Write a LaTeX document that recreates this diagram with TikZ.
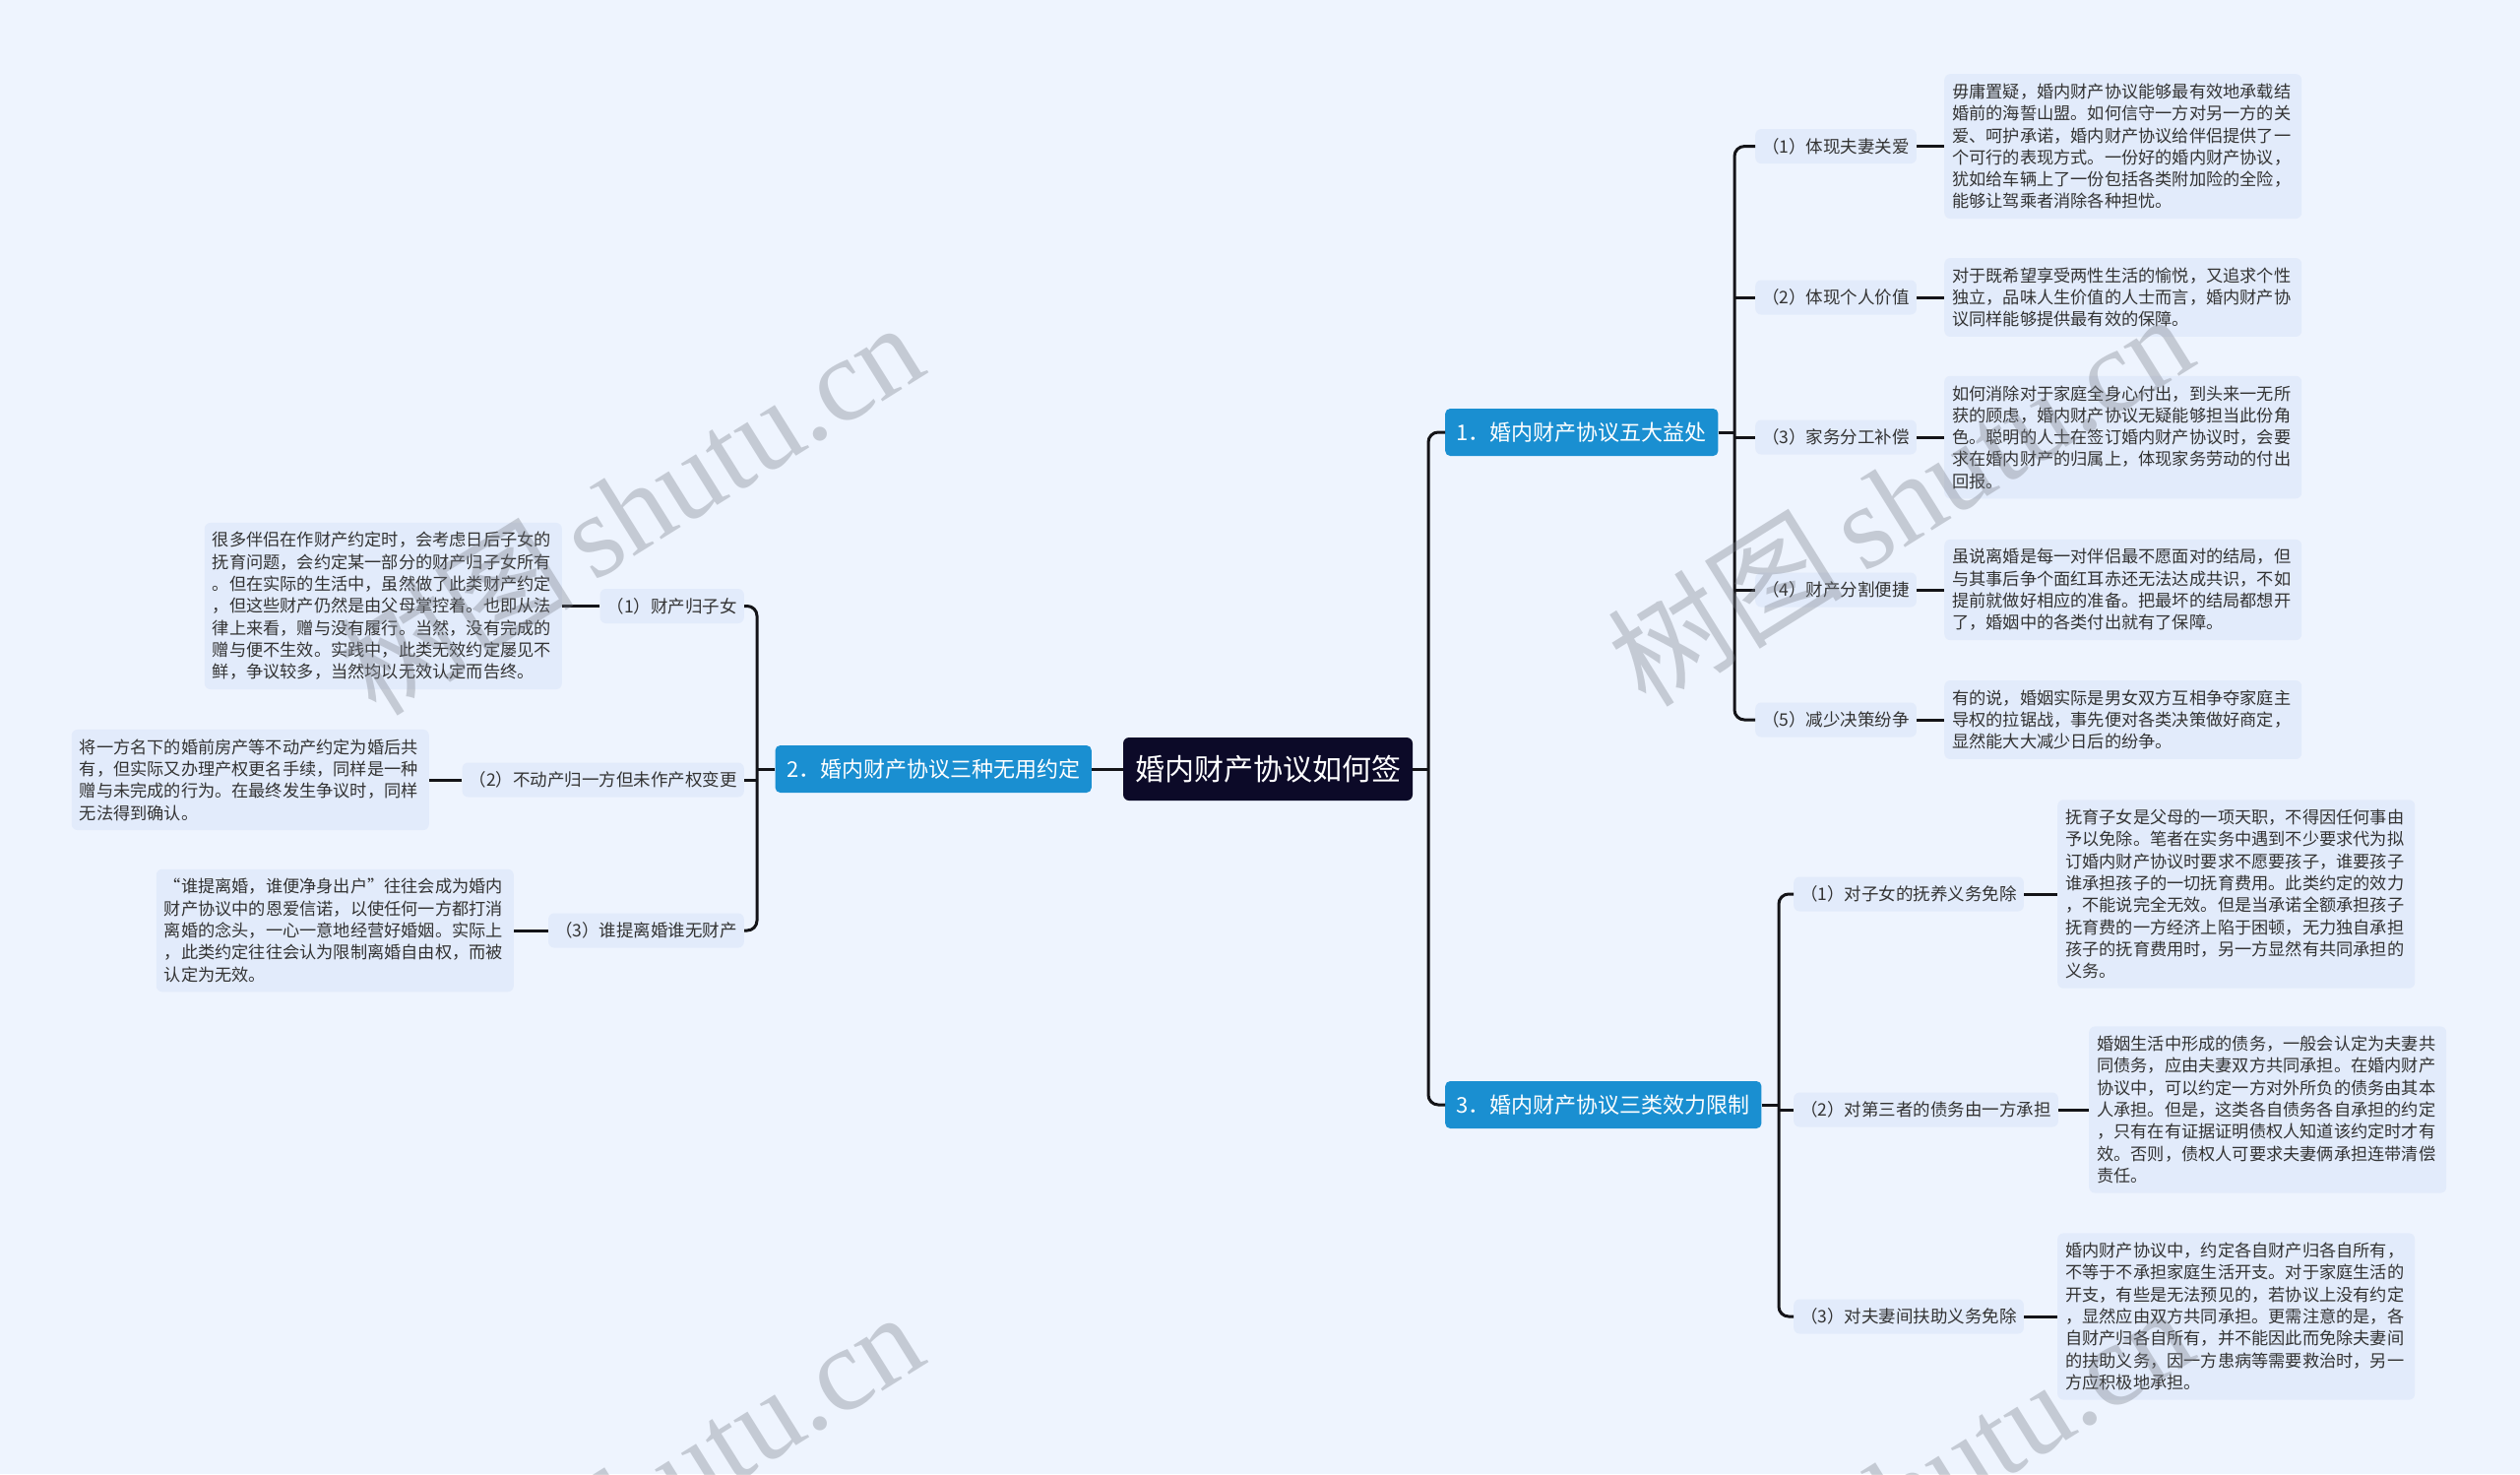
\documentclass[tikz,border=0pt]{standalone}
\usepackage{fontspec}
\setmainfont{Noto Sans CJK SC}
\newfontfamily\wmlat{Liberation Serif}
\definecolor{bgc}{RGB}{238,244,254}
\definecolor{boxc}{RGB}{226,235,251}
\definecolor{rootc}{RGB}{12,10,40}
\definecolor{branchc}{RGB}{26,143,209}
\definecolor{linec}{RGB}{20,20,24}
\definecolor{textc}{RGB}{51,51,51}
\definecolor{wmc}{RGB}{120,125,135}
\begin{document}
\begin{tikzpicture}[x=1pt,y=-1pt]
\tikzset{
  conn/.style={draw=linec, line width=3pt},
  rconn/.style={draw=linec, line width=3pt, rounded corners=10pt},
  rootbox/.style={fill=rootc, rounded corners=6pt, text=white, font=\fontsize{30}{36}\selectfont, minimum height=64pt, inner xsep=12pt, inner ysep=0pt},
  branchbox/.style={fill=branchc, rounded corners=5pt, text=white, font=\fontsize{22}{26}\selectfont, minimum height=48pt, inner xsep=11.5pt, inner ysep=0pt},
  labelbox/.style={fill=boxc, rounded corners=6pt, text=textc, font=\fontsize{17.5}{21}\selectfont, minimum height=35pt, inner xsep=7pt, inner ysep=0pt},
  descbox/.style={fill=boxc, rounded corners=6pt, text=textc, font=\fontsize{17.2}{22.3}\selectfont, text width=347pt, align=left, inner xsep=8pt, inner ysep=4pt},
  wm/.style={text=wmc, text opacity=0.35, font=\fontsize{120}{120}\selectfont, rotate=32, inner sep=0pt}
}
\useasboundingbox (0,0) rectangle (2560,1497);
\fill[bgc] (0,0) rectangle (2560,1497);

% root and branches
\node[rootbox] (root) at (1288,781) {婚内财产协议如何签};
\node[branchbox, anchor=west] (b1) at (1468,439) {1．婚内财产协议五大益处};
\node[branchbox, anchor=east] (b2) at (1109,781) {2．婚内财产协议三种无用约定};
\node[branchbox, anchor=west] (b3) at (1468,1122) {3．婚内财产协议三类效力限制};

% branch 1 labels
\node[labelbox, anchor=west] (c1) at (1783,148.6) {（1）体现夫妻关爱};
\node[labelbox, anchor=west] (c2) at (1783,302) {（2）体现个人价值};
\node[labelbox, anchor=west] (c3) at (1783,444) {（3）家务分工补偿};
\node[labelbox, anchor=west] (c4) at (1783,599) {（4）财产分割便捷};
\node[labelbox, anchor=west] (c5) at (1783,731) {（5）减少决策纷争};

% branch 1 descriptions
\node[descbox, anchor=west, minimum height=146.8pt] (t1) at (1975,148.6) {毋庸置疑，婚内财产协议能够最有效地承载结\\婚前的海誓山盟。如何信守一方对另一方的关\\爱、呵护承诺，婚内财产协议给伴侣提供了一\\个可行的表现方式。一份好的婚内财产协议，\\犹如给车辆上了一份包括各类附加险的全险，\\能够让驾乘者消除各种担忧。};
\node[descbox, anchor=west, minimum height=79.9pt] (t2) at (1975,302) {对于既希望享受两性生活的愉悦，又追求个性\\独立，品味人生价值的人士而言，婚内财产协\\议同样能够提供最有效的保障。};
\node[descbox, anchor=west, minimum height=124.5pt] (t3) at (1975,444) {如何消除对于家庭全身心付出，到头来一无所\\获的顾虑，婚内财产协议无疑能够担当此份角\\色。聪明的人士在签订婚内财产协议时，会要\\求在婚内财产的归属上，体现家务劳动的付出\\回报。};
\node[descbox, anchor=west, minimum height=102.2pt] (t4) at (1975,599) {虽说离婚是每一对伴侣最不愿面对的结局，但\\与其事后争个面红耳赤还无法达成共识，不如\\提前就做好相应的准备。把最坏的结局都想开\\了，婚姻中的各类付出就有了保障。};
\node[descbox, anchor=west, minimum height=79.9pt] (t5) at (1975,731) {有的说，婚姻实际是男女双方互相争夺家庭主\\导权的拉锯战，事先便对各类决策做好商定，\\显然能大大减少日后的纷争。};

% branch 3 labels
\node[labelbox, anchor=west] (d1) at (1822,908) {（1）对子女的抚养义务免除};
\node[labelbox, anchor=west] (d2) at (1822,1127) {（2）对第三者的债务由一方承担};
\node[labelbox, anchor=west] (d3) at (1822,1337) {（3）对夫妻间扶助义务免除};

% branch 3 descriptions
\node[descbox, anchor=west, minimum height=191.4pt] (u1) at (2090,908) {抚育子女是父母的一项天职，不得因任何事由\\予以免除。笔者在实务中遇到不少要求代为拟\\订婚内财产协议时要求不愿要孩子，谁要孩子\\谁承担孩子的一切抚育费用。此类约定的效力\\，不能说完全无效。但是当承诺全额承担孩子\\抚育费的一方经济上陷于困顿，无力独自承担\\孩子的抚育费用时，另一方显然有共同承担的\\义务。};
\node[descbox, anchor=west, minimum height=169.1pt] (u2) at (2122,1127) {婚姻生活中形成的债务，一般会认定为夫妻共\\同债务，应由夫妻双方共同承担。在婚内财产\\协议中，可以约定一方对外所负的债务由其本\\人承担。但是，这类各自债务各自承担的约定\\，只有在有证据证明债权人知道该约定时才有\\效。否则，债权人可要求夫妻俩承担连带清偿\\责任。};
\node[descbox, anchor=west, minimum height=169.1pt] (u3) at (2090,1337) {婚内财产协议中，约定各自财产归各自所有，\\不等于不承担家庭生活开支。对于家庭生活的\\开支，有些是无法预见的，若协议上没有约定\\，显然应由双方共同承担。更需注意的是，各\\自财产归各自所有，并不能因此而免除夫妻间\\的扶助义务，因一方患病等需要救治时，另一\\方应积极地承担。};

% branch 2 labels
\node[labelbox, anchor=east] (e1) at (756,615.5) {（1）财产归子女};
\node[labelbox, anchor=east] (e2) at (756,792) {（2）不动产归一方但未作产权变更};
\node[labelbox, anchor=east] (e3) at (756,945) {（3）谁提离婚谁无财产};

% branch 2 descriptions
\node[descbox, anchor=east, minimum height=169.1pt] (s1) at (571,615.5) {很多伴侣在作财产约定时，会考虑日后子女的\\抚育问题，会约定某一部分的财产归子女所有\\。但在实际的生活中，虽然做了此类财产约定\\，但这些财产仍然是由父母掌控着。也即从法\\律上来看，赠与没有履行。当然，没有完成的\\赠与便不生效。实践中，此类无效约定屡见不\\鲜，争议较多，当然均以无效认定而告终。};
\node[descbox, anchor=east, minimum height=102.2pt] (s2) at (436,792) {将一方名下的婚前房产等不动产约定为婚后共\\有，但实际又办理产权更名手续，同样是一种\\赠与未完成的行为。在最终发生争议时，同样\\无法得到确认。};
\node[descbox, anchor=east, minimum height=124.5pt] (s3) at (522,945) {“谁提离婚，谁便净身出户”往往会成为婚内\\财产协议中的恩爱信诺，以使任何一方都打消\\离婚的念头，一心一意地经营好婚姻。实际上\\，此类约定往往会认为限制离婚自由权，而被\\认定为无效。};

% junction coordinates
\coordinate (m) at (1451,781);
\coordinate (j1) at (1762,439);
\coordinate (j2) at (769,781);
\coordinate (j3) at (1807,1122);

% main connectors
\draw[conn] (root.west) -- (b2.east);
\draw[conn] (root.east) -- (m);
\draw[rconn] (b1.west) -| (m) |- (b3.west);

% branch 1 connectors
\draw[conn] (b1.east) -- (j1);
\draw[rconn] (c1.west) -| (j1) |- (c5.west);
\draw[conn] (c2.west -| j1) -- (c2.west);
\draw[conn] (c3.west -| j1) -- (c3.west);
\draw[conn] (c4.west -| j1) -- (c4.west);
\draw[conn] (c1.east) -- (c1.east -| t1.west);
\draw[conn] (c2.east) -- (c2.east -| t2.west);
\draw[conn] (c3.east) -- (c3.east -| t3.west);
\draw[conn] (c4.east) -- (c4.east -| t4.west);
\draw[conn] (c5.east) -- (c5.east -| t5.west);

% branch 3 connectors
\draw[conn] (b3.east) -- (j3);
\draw[rconn] (d1.west) -| (j3) |- (d3.west);
\draw[conn] (d2.west -| j3) -- (d2.west);
\draw[conn] (d1.east) -- (d1.east -| u1.west);
\draw[conn] (d2.east) -- (d2.east -| u2.west);
\draw[conn] (d3.east) -- (d3.east -| u3.west);

% branch 2 connectors
\draw[conn] (b2.west) -- (j2);
\draw[rconn] (e1.east) -| (j2) |- (e3.east);
\draw[conn] (e2.east -| j2) -- (e2.east);
\draw[conn] (e1.west) -- (e1.west -| s1.east);
\draw[conn] (e2.west) -- (e2.west -| s2.east);
\draw[conn] (e3.west) -- (e3.west -| s3.east);

% watermarks
\begin{scope}
\clip (0,0) rectangle (2560,1497);
\node[wm] (wm1) at (640,515) {树图\,{\wmlat shutu.cn}};
\node[wm] (wm2) at (1930,506) {树图\,{\wmlat shutu.cn}};
\node[wm] (wm3) at (640,1520) {树图\,{\wmlat shutu.cn}};
\node[wm] (wm4) at (1930,1515) {树图\,{\wmlat shutu.cn}};
\end{scope}
\end{tikzpicture}
\end{document}
